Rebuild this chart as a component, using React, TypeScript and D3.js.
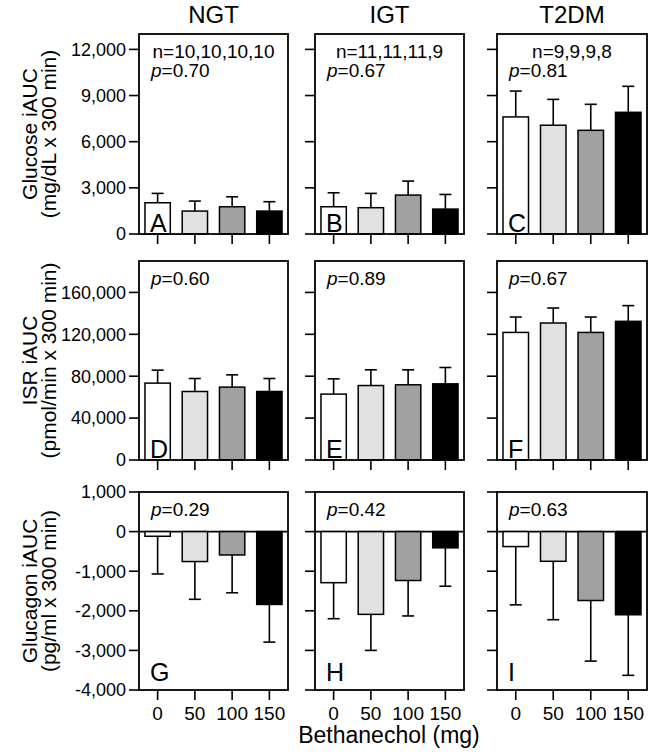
import React from "react";
import * as d3 from "d3";

const doses = ["0", "50", "100", "150"];
const groups = ["NGT", "IGT", "T2DM"];
const nLabels = ["n=10,10,10,10", "n=11,11,11,9", "n=9,9,9,8"];

const glucoseMean = [
  [2030, 1490, 1770, 1490],
  [1770, 1710, 2530, 1620],
  [7610, 7070, 6740, 7910],
];
const glucoseSem = [
  [610, 650, 650, 610],
  [910, 930, 910, 950],
  [1680, 1680, 1690, 1690],
];
const isrMean = [
  [73400, 65400, 69600, 65400],
  [62900, 71100, 71800, 72700],
  [121800, 130800, 121800, 132400],
];
const isrSem = [
  [12400, 12400, 11700, 12400],
  [14600, 15000, 14300, 15600],
  [14700, 14300, 14700, 15000],
];
const glucagonMean = [
  [-118, -756, -590, -1840],
  [-1290, -2090, -1235, -410],
  [-378, -750, -1740, -2100],
];
const glucagonSem = [
  [952, 954, 955, 950],
  [910, 910, 895, 970],
  [1472, 1475, 1530, 1530],
];

const glucoseP = ["0.70", "0.67", "0.81"];
const isrP = ["0.60", "0.89", "0.67"];
const glucagonP = ["0.29", "0.42", "0.63"];

const glucoseTicks = [0, 3000, 6000, 9000, 12000];
const isrTicks = [0, 40000, 80000, 120000, 160000];
const glucagonTicks = [1000, 0, -1000, -2000, -3000, -4000];

const letters = [["A", "B", "C"], ["D", "E", "F"], ["G", "H", "I"]];
const barColors = ["#ffffff", "#e1e1e1", "#a1a1a1", "#000000"];

const FONT = "'Liberation Sans', Arial, Helvetica, sans-serif";

const fmt = d3.formatLocale({
  decimal: ".",
  thousands: ",",
  grouping: [3],
  currency: ["$", ""],
  minus: "-",
}).format(",");

const panelX: [number, number][] = [
  [139, 288],
  [315, 464],
  [497, 647],
];

type Row = {
  top: number;
  bottom: number;
  domain: [number, number];
  mean: number[][];
  sem: number[][];
  p: string[];
  ticks: number[];
  title1: string;
  title2: string;
  letterBase: number;
};

const rows: Row[] = [
  {
    top: 34, bottom: 234, domain: [0, 13000], mean: glucoseMean, sem: glucoseSem,
    p: glucoseP, ticks: glucoseTicks, title1: "Glucose iAUC", title2: "(mg/dL x 300 min)", letterBase: 2,
  },
  {
    top: 261, bottom: 460, domain: [0, 190000], mean: isrMean, sem: isrSem,
    p: isrP, ticks: isrTicks, title1: "ISR iAUC", title2: "(pmol/min x 300 min)", letterBase: 2,
  },
  {
    top: 492, bottom: 690, domain: [-4000, 1000], mean: glucagonMean, sem: glucagonSem,
    p: glucagonP, ticks: glucagonTicks, title1: "Glucagon iAUC", title2: "(pg/ml x 300 min)", letterBase: 9,
  },
];

export default function App() {
  return (
    <svg
      width={650}
      height={754}
      style={{ position: "absolute", left: 0, top: 0, background: "#fff" }}
      fontFamily={FONT}
    >
      <rect x={0} y={0} width={650} height={754} fill="#fff" />
      {groups.map((g, gi) => (
        <text
          key={g}
          x={(panelX[gi][0] + panelX[gi][1]) / 2}
          y={23}
          fontSize={24}
          textAnchor="middle"
        >
          {g}
        </text>
      ))}
      {rows.map((row, ri) => {
        const y = d3.scaleLinear().domain(row.domain).range([row.bottom, row.top]);
        const cy = (row.top + row.bottom) / 2;
        return (
          <g key={ri}>
            <text transform={`translate(37,${cy}) rotate(-90)`} textAnchor="middle" fontSize={21}>
              {row.title1}
            </text>
            <text transform={`translate(56,${cy}) rotate(-90)`} textAnchor="middle" fontSize={21}>
              {row.title2}
            </text>
            {panelX.map(([x0, x1], gi) => {
              const x = d3
                .scaleBand<string>()
                .domain(doses)
                .range([x0, x1])
                .paddingInner(0.32)
                .paddingOuter(0.16);
              const bw = x.bandwidth();
              const zeroY = y(0);
              return (
                <g key={gi}>
                  {/* y ticks */}
                  {row.ticks.map((t) => (
                    <g key={t}>
                      <line x1={x0 - 10} x2={x0} y1={y(t)} y2={y(t)} stroke="#000" strokeWidth={1.6} />
                      {gi === 0 && (
                        <text x={x0 - 13} y={y(t)} dy="0.35em" textAnchor="end" fontSize={18}>
                          {fmt(t)}
                        </text>
                      )}
                    </g>
                  ))}
                  {/* x ticks */}
                  {doses.map((d) => (
                    <g key={d}>
                      <line
                        x1={x(d)! + bw / 2}
                        x2={x(d)! + bw / 2}
                        y1={row.bottom}
                        y2={row.bottom + 10}
                        stroke="#000"
                        strokeWidth={1.6}
                      />
                      {ri === 2 && (
                        <text x={x(d)! + bw / 2} y={720} textAnchor="middle" fontSize={19}>
                          {d}
                        </text>
                      )}
                    </g>
                  ))}
                  {/* zero line for glucagon */}
                  {ri === 2 && (
                    <line x1={x0} x2={x1} y1={zeroY} y2={zeroY} stroke="#000" strokeWidth={1.6} />
                  )}
                  {/* error bars */}
                  {row.mean[gi].map((m, i) => {
                    const cx = x(doses[i])! + bw / 2;
                    const e = m >= 0 ? m + row.sem[gi][i] : m - row.sem[gi][i];
                    return (
                      <g key={"e" + i}>
                        <line x1={cx} x2={cx} y1={y(m)} y2={y(e)} stroke="#000" strokeWidth={1.6} />
                        <line x1={cx - 6} x2={cx + 6} y1={y(e)} y2={y(e)} stroke="#000" strokeWidth={1.6} />
                      </g>
                    );
                  })}
                  {/* bars */}
                  {row.mean[gi].map((m, i) => (
                    <rect
                      key={"b" + i}
                      x={x(doses[i])!}
                      y={Math.min(y(m), zeroY)}
                      width={bw}
                      height={Math.abs(y(m) - zeroY)}
                      fill={barColors[i]}
                      stroke="#000"
                      strokeWidth={1.5}
                    />
                  ))}
                  {/* panel frame */}
                  <rect
                    x={x0}
                    y={row.top}
                    width={x1 - x0}
                    height={row.bottom - row.top}
                    fill="none"
                    stroke="#000"
                    strokeWidth={1.8}
                  />
                  {/* texts */}
                  {ri === 0 && (
                    <text x={(x0 + x1) / 2} y={row.top + 24} textAnchor="middle" fontSize={19}>
                      {nLabels[gi]}
                    </text>
                  )}
                  <text x={x0 + 12} y={row.top + (ri === 0 ? 43 : 24)} fontSize={19}>
                    <tspan fontStyle="italic">p</tspan>={row.p[gi]}
                  </text>
                  <text x={x0 + 11} y={row.bottom - row.letterBase} fontSize={25}>
                    {letters[ri][gi]}
                  </text>
                </g>
              );
            })}
          </g>
        );
      })}
      <text x={389} y={743} textAnchor="middle" fontSize={23}>
        Bethanechol (mg)
      </text>
    </svg>
  );
}
